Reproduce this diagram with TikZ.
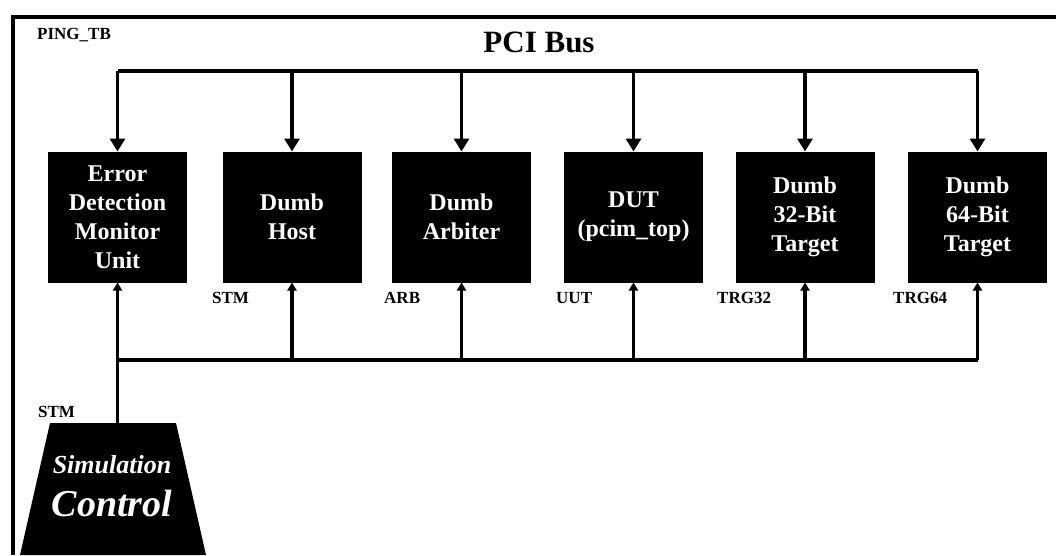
\documentclass[tikz,border=0pt]{standalone}
\usepackage{fontspec}
\setmainfont{Liberation Serif}
\usetikzlibrary{arrows.meta}
\begin{document}
\begin{tikzpicture}[x=1pt,y=-1pt,
  blk/.style={draw=black,fill=black,line width=1pt,minimum width=138pt,minimum height=130pt,
    inner sep=0pt,text=white,align=center,font=\bfseries\fontsize{24}{29}\selectfont},
  lbl/.style={font=\bfseries\fontsize{17}{19}\selectfont,inner sep=0pt,anchor=west},
  wire/.style={line width=3.5pt},
  down/.style={wire,-{Triangle[width=15pt,length=13pt]}},
  up/.style={wire,-{Triangle[width=9pt,length=8pt]}}]
\useasboundingbox (0,0) rectangle (1056,555);
\draw[line width=4pt] (13,555) -- (13,17) -- (1056,17);
\node[lbl] (tb) at (37,35) {PING\_TB};
\node[font=\bfseries\fontsize{31}{33}\selectfont,inner sep=0pt] (pci) at (539,42) {PCI Bus};
% blocks
\node[blk] (e) at (117.5,217) {Error\\Detection\\Monitor\\Unit};
\node[blk] (h) at (292,217) {Dumb\\Host};
\node[blk] (a) at (461.5,217) {Dumb\\Arbiter};
\node[blk] (d) at (633.5,217) {DUT\\(pcim\_top)};
\node[blk] (t32) at (805,217) {Dumb\\32-Bit\\Target};
\node[blk] (t64) at (977.5,217) {Dumb\\64-Bit\\Target};
% labels
\node[lbl] (lstm) at (212,298) {STM};
\node[lbl] (larb) at (384,298) {ARB};
\node[lbl] (luut) at (556,298) {UUT};
\node[lbl] (ltrg32) at (717,298) {TRG32};
\node[lbl] (ltrg64) at (893,298) {TRG64};
\node[lbl] (lstm2) at (38,412) {STM};
% top bus
\coordinate (b1) at (e.north |- 0,71);
\coordinate (b6) at (t64.north |- 0,71);
\draw[wire,line join=miter] (b1) -- (b6);
\foreach \n in {e,h,a,d,t32,t64}
  \draw[down] (\n.north |- 0,71) -- (\n.north);
% simulation control
\fill[black] (50,423) -- (176,423) -- (206,555) -- (20,555) -- cycle;
\coordinate (simtop) at (117.5,423);
\node[text=white,inner sep=0pt,font=\bfseries\itshape\fontsize{26}{28}\selectfont] (sim1) at (112,465) {Simulation};
\node[text=white,inner sep=0pt,font=\bfseries\itshape\fontsize{38}{40}\selectfont] (sim2) at (112,503) {Control};
% bottom bus
\draw[wire] (e.south |- 0,360) -- (t64.south |- 0,360);
\draw[up] (simtop) -- (e.south);
\foreach \n in {h,a,d,t32,t64}
  \draw[up] (\n.south |- 0,360) -- (\n.south);
\end{tikzpicture}
\end{document}
